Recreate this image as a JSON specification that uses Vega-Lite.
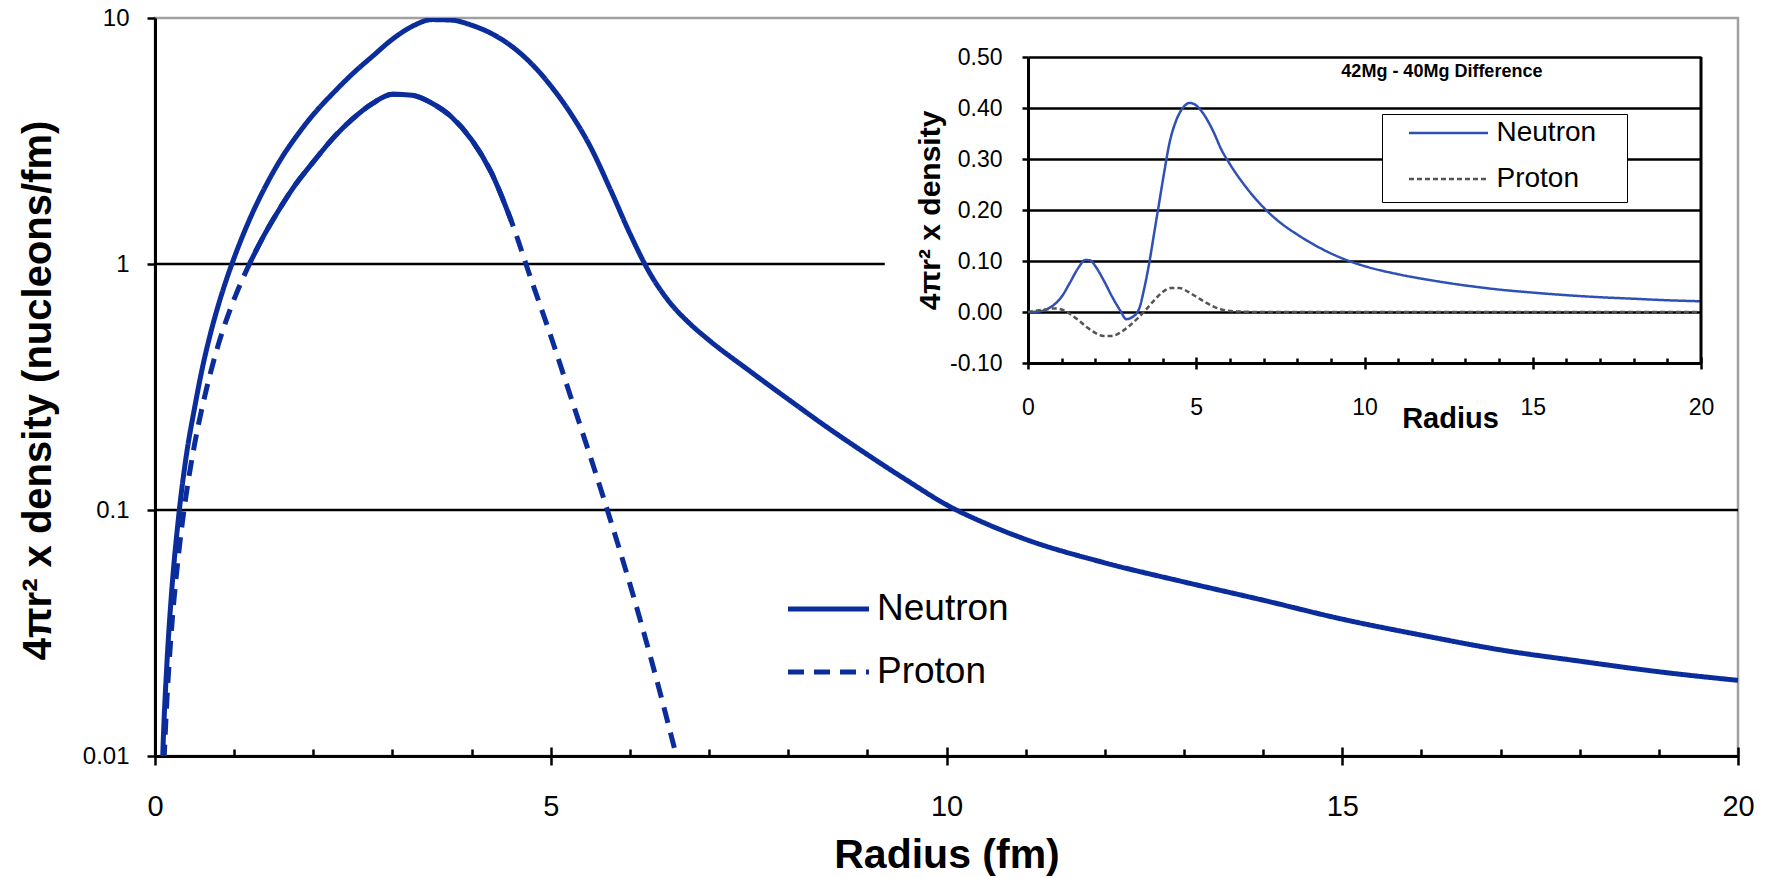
{
  "$schema": "https://vega.github.io/schema/vega-lite/v6.json",
  "width": 1583,
  "height": 738,
  "autosize": {"type": "none"},
  "padding": {"left": 155, "top": 18, "right": 31, "bottom": 122},
  "background": "white",
  "config": {
    "view": {"stroke": "#a0a0a0", "strokeWidth": 2.5},
    "font": "Liberation Sans",
    "axis": {"labelFont": "Liberation Sans", "titleFont": "Liberation Sans", "labelColor": "black", "titleColor": "black", "domainColor": "black", "tickColor": "black", "titleFontWeight": "bold", "labelFlush": false, "labelOverlap": false, "grid": false},
    "legend": {"labelFont": "Liberation Sans", "labelColor": "black"}
  },
  "datasets": {
    "main": [
      {"particle": "Neutron", "r": 0.05, "v": 0.0026},
      {"particle": "Neutron", "r": 0.1, "v": 0.0105},
      {"particle": "Neutron", "r": 0.15, "v": 0.0236},
      {"particle": "Neutron", "r": 0.2, "v": 0.042},
      {"particle": "Neutron", "r": 0.3, "v": 0.095},
      {"particle": "Neutron", "r": 0.4, "v": 0.17},
      {"particle": "Neutron", "r": 0.5, "v": 0.26},
      {"particle": "Neutron", "r": 0.6, "v": 0.38},
      {"particle": "Neutron", "r": 0.7, "v": 0.52},
      {"particle": "Neutron", "r": 0.8, "v": 0.68},
      {"particle": "Neutron", "r": 0.9, "v": 0.86},
      {"particle": "Neutron", "r": 1.0, "v": 1.06},
      {"particle": "Neutron", "r": 1.2, "v": 1.53},
      {"particle": "Neutron", "r": 1.4, "v": 2.08},
      {"particle": "Neutron", "r": 1.6, "v": 2.7},
      {"particle": "Neutron", "r": 1.8, "v": 3.35},
      {"particle": "Neutron", "r": 2.0, "v": 4.05},
      {"particle": "Neutron", "r": 2.25, "v": 4.95},
      {"particle": "Neutron", "r": 2.5, "v": 5.95},
      {"particle": "Neutron", "r": 2.75, "v": 7.0},
      {"particle": "Neutron", "r": 3.0, "v": 8.2},
      {"particle": "Neutron", "r": 3.25, "v": 9.25},
      {"particle": "Neutron", "r": 3.5, "v": 9.85},
      {"particle": "Neutron", "r": 3.75, "v": 9.8},
      {"particle": "Neutron", "r": 4.0, "v": 9.35},
      {"particle": "Neutron", "r": 4.25, "v": 8.65},
      {"particle": "Neutron", "r": 4.5, "v": 7.7},
      {"particle": "Neutron", "r": 4.75, "v": 6.55},
      {"particle": "Neutron", "r": 5.0, "v": 5.3},
      {"particle": "Neutron", "r": 5.25, "v": 4.1},
      {"particle": "Neutron", "r": 5.5, "v": 3.0},
      {"particle": "Neutron", "r": 5.75, "v": 2.02},
      {"particle": "Neutron", "r": 6.0, "v": 1.33},
      {"particle": "Neutron", "r": 6.25, "v": 0.92},
      {"particle": "Neutron", "r": 6.5, "v": 0.7},
      {"particle": "Neutron", "r": 6.75, "v": 0.575},
      {"particle": "Neutron", "r": 7.0, "v": 0.49},
      {"particle": "Neutron", "r": 7.5, "v": 0.37},
      {"particle": "Neutron", "r": 8.0, "v": 0.282},
      {"particle": "Neutron", "r": 8.5, "v": 0.216},
      {"particle": "Neutron", "r": 9.0, "v": 0.168},
      {"particle": "Neutron", "r": 9.5, "v": 0.132},
      {"particle": "Neutron", "r": 10.0, "v": 0.105},
      {"particle": "Neutron", "r": 10.5, "v": 0.088},
      {"particle": "Neutron", "r": 11, "v": 0.076},
      {"particle": "Neutron", "r": 12, "v": 0.061},
      {"particle": "Neutron", "r": 13, "v": 0.051},
      {"particle": "Neutron", "r": 14, "v": 0.043},
      {"particle": "Neutron", "r": 15, "v": 0.036},
      {"particle": "Neutron", "r": 16, "v": 0.031},
      {"particle": "Neutron", "r": 17, "v": 0.027},
      {"particle": "Neutron", "r": 18, "v": 0.0243},
      {"particle": "Neutron", "r": 19, "v": 0.022},
      {"particle": "Neutron", "r": 20, "v": 0.0203},
      {"particle": "Proton", "r": 0.1, "v": 0.0075},
      {"particle": "Proton", "r": 0.15, "v": 0.0168},
      {"particle": "Proton", "r": 0.2, "v": 0.03},
      {"particle": "Proton", "r": 0.3, "v": 0.067},
      {"particle": "Proton", "r": 0.4, "v": 0.119},
      {"particle": "Proton", "r": 0.5, "v": 0.185},
      {"particle": "Proton", "r": 0.6, "v": 0.265},
      {"particle": "Proton", "r": 0.7, "v": 0.36},
      {"particle": "Proton", "r": 0.8, "v": 0.47},
      {"particle": "Proton", "r": 0.9, "v": 0.59},
      {"particle": "Proton", "r": 1.0, "v": 0.72},
      {"particle": "Proton", "r": 1.1, "v": 0.86},
      {"particle": "Proton", "r": 1.2, "v": 1.01},
      {"particle": "Proton", "r": 1.35, "v": 1.26},
      {"particle": "Proton", "r": 1.5, "v": 1.53},
      {"particle": "Proton", "r": 1.75, "v": 2.05},
      {"particle": "Proton", "r": 2.0, "v": 2.6},
      {"particle": "Proton", "r": 2.25, "v": 3.25},
      {"particle": "Proton", "r": 2.5, "v": 3.9},
      {"particle": "Proton", "r": 2.75, "v": 4.5},
      {"particle": "Proton", "r": 3.0, "v": 4.9},
      {"particle": "Proton", "r": 3.25, "v": 4.85},
      {"particle": "Proton", "r": 3.5, "v": 4.5},
      {"particle": "Proton", "r": 3.75, "v": 3.95},
      {"particle": "Proton", "r": 4.0, "v": 3.2},
      {"particle": "Proton", "r": 4.25, "v": 2.35},
      {"particle": "Proton", "r": 4.5, "v": 1.5},
      {"particle": "Proton", "r": 4.75, "v": 0.87},
      {"particle": "Proton", "r": 5.0, "v": 0.51},
      {"particle": "Proton", "r": 5.25, "v": 0.29},
      {"particle": "Proton", "r": 5.5, "v": 0.165},
      {"particle": "Proton", "r": 5.75, "v": 0.092},
      {"particle": "Proton", "r": 6.0, "v": 0.05},
      {"particle": "Proton", "r": 6.25, "v": 0.026},
      {"particle": "Proton", "r": 6.5, "v": 0.0129},
      {"particle": "Proton", "r": 6.75, "v": 0.0061},
      {"particle": "Proton", "r": 7.0, "v": 0.0027}
    ],
    "diff": [
      {"particle": "Neutron", "r": 0, "v": 0},
      {"particle": "Neutron", "r": 0.25, "v": 0.0005},
      {"particle": "Neutron", "r": 0.5, "v": 0.004},
      {"particle": "Neutron", "r": 0.75, "v": 0.013},
      {"particle": "Neutron", "r": 1.0, "v": 0.03},
      {"particle": "Neutron", "r": 1.25, "v": 0.058},
      {"particle": "Neutron", "r": 1.5, "v": 0.087},
      {"particle": "Neutron", "r": 1.7, "v": 0.102},
      {"particle": "Neutron", "r": 1.85, "v": 0.101},
      {"particle": "Neutron", "r": 2.0, "v": 0.09},
      {"particle": "Neutron", "r": 2.25, "v": 0.062},
      {"particle": "Neutron", "r": 2.5, "v": 0.03},
      {"particle": "Neutron", "r": 2.75, "v": 0.002},
      {"particle": "Neutron", "r": 2.92, "v": -0.014},
      {"particle": "Neutron", "r": 3.1, "v": -0.01},
      {"particle": "Neutron", "r": 3.3, "v": 0.006},
      {"particle": "Neutron", "r": 3.45, "v": 0.045},
      {"particle": "Neutron", "r": 3.6, "v": 0.095},
      {"particle": "Neutron", "r": 3.75, "v": 0.155},
      {"particle": "Neutron", "r": 3.9, "v": 0.215},
      {"particle": "Neutron", "r": 4.05, "v": 0.275},
      {"particle": "Neutron", "r": 4.2, "v": 0.33},
      {"particle": "Neutron", "r": 4.4, "v": 0.375},
      {"particle": "Neutron", "r": 4.6, "v": 0.4},
      {"particle": "Neutron", "r": 4.8, "v": 0.41},
      {"particle": "Neutron", "r": 5.0, "v": 0.405},
      {"particle": "Neutron", "r": 5.25, "v": 0.385},
      {"particle": "Neutron", "r": 5.5, "v": 0.355},
      {"particle": "Neutron", "r": 5.75, "v": 0.318},
      {"particle": "Neutron", "r": 6.0, "v": 0.29},
      {"particle": "Neutron", "r": 6.5, "v": 0.243},
      {"particle": "Neutron", "r": 7.0, "v": 0.205},
      {"particle": "Neutron", "r": 7.5, "v": 0.175},
      {"particle": "Neutron", "r": 8.0, "v": 0.152},
      {"particle": "Neutron", "r": 8.5, "v": 0.132},
      {"particle": "Neutron", "r": 9.0, "v": 0.115},
      {"particle": "Neutron", "r": 9.5, "v": 0.101},
      {"particle": "Neutron", "r": 10, "v": 0.09},
      {"particle": "Neutron", "r": 11, "v": 0.074},
      {"particle": "Neutron", "r": 12, "v": 0.062},
      {"particle": "Neutron", "r": 13, "v": 0.052},
      {"particle": "Neutron", "r": 14, "v": 0.044},
      {"particle": "Neutron", "r": 15, "v": 0.038},
      {"particle": "Neutron", "r": 16, "v": 0.033},
      {"particle": "Neutron", "r": 17, "v": 0.029},
      {"particle": "Neutron", "r": 18, "v": 0.026},
      {"particle": "Neutron", "r": 19, "v": 0.023},
      {"particle": "Neutron", "r": 20, "v": 0.021},
      {"particle": "Proton", "r": 0, "v": 0},
      {"particle": "Proton", "r": 0.4, "v": 0.004},
      {"particle": "Proton", "r": 0.8, "v": 0.007},
      {"particle": "Proton", "r": 1.0, "v": 0.005},
      {"particle": "Proton", "r": 1.25, "v": -0.004},
      {"particle": "Proton", "r": 1.5, "v": -0.016},
      {"particle": "Proton", "r": 1.75, "v": -0.03},
      {"particle": "Proton", "r": 2.0, "v": -0.041},
      {"particle": "Proton", "r": 2.25, "v": -0.047},
      {"particle": "Proton", "r": 2.5, "v": -0.047},
      {"particle": "Proton", "r": 2.75, "v": -0.04},
      {"particle": "Proton", "r": 3.0, "v": -0.028},
      {"particle": "Proton", "r": 3.25, "v": -0.013},
      {"particle": "Proton", "r": 3.5, "v": 0.004},
      {"particle": "Proton", "r": 3.75, "v": 0.023},
      {"particle": "Proton", "r": 4.0, "v": 0.039},
      {"particle": "Proton", "r": 4.25, "v": 0.047},
      {"particle": "Proton", "r": 4.5, "v": 0.047},
      {"particle": "Proton", "r": 4.75, "v": 0.04},
      {"particle": "Proton", "r": 5.0, "v": 0.03},
      {"particle": "Proton", "r": 5.25, "v": 0.02},
      {"particle": "Proton", "r": 5.5, "v": 0.011},
      {"particle": "Proton", "r": 5.75, "v": 0.005},
      {"particle": "Proton", "r": 6.0, "v": 0.002},
      {"particle": "Proton", "r": 6.5, "v": 0.0005},
      {"particle": "Proton", "r": 7, "v": 0},
      {"particle": "Proton", "r": 8, "v": 0},
      {"particle": "Proton", "r": 10, "v": 0},
      {"particle": "Proton", "r": 12, "v": 0},
      {"particle": "Proton", "r": 14, "v": 0},
      {"particle": "Proton", "r": 16, "v": 0},
      {"particle": "Proton", "r": 18, "v": 0},
      {"particle": "Proton", "r": 20, "v": 0}
    ]
  },
  "layer": [
    {
      "layer": [
        {
          "data": {"values": [{}]},
          "mark": {"type": "rule", "color": "black", "strokeWidth": 2.5},
          "encoding": {
            "x": {"datum": 0, "type": "quantitative", "scale": {"domain": [0, 20], "nice": false, "zero": false}},
            "x2": {"datum": 9.22},
            "y": {"datum": 1, "type": "quantitative", "scale": {"type": "log", "domain": [0.01, 10], "nice": false}}
          }
        },
        {
          "data": {"values": [{}]},
          "mark": {"type": "rule", "color": "black", "strokeWidth": 2.5},
          "encoding": {
            "x": {"datum": 0, "type": "quantitative", "scale": {"domain": [0, 20], "nice": false, "zero": false}},
            "x2": {"datum": 20},
            "y": {"datum": 0.1, "type": "quantitative", "scale": {"type": "log", "domain": [0.01, 10], "nice": false}}
          }
        },
        {
          "data": {"name": "main"},
          "mark": {"type": "line", "color": "#0b2d9c", "strokeWidth": 5, "clip": true, "interpolate": "monotone"},
          "encoding": {
            "x": {
              "field": "r", "type": "quantitative",
              "scale": {"domain": [0, 20], "nice": false, "zero": false},
              "axis": {
                "title": "Radius (fm)", "orient": "bottom", "grid": false,
                "values": [0,1,2,3,4,5,6,7,8,9,10,11,12,13,14,15,16,17,18,19,20],
                "labelExpr": "datum.value % 5 === 0 ? format(datum.value, 'd') : ''",
                "labelFontSize": 29, "labelPadding": 27, "tickSize": 9, "tickWidth": 2.5, "domainWidth": 3,
                "titleFontSize": 41, "titleY": 111, "titleBaseline": "alphabetic",
                "encoding": {"ticks": {
                  "y": {"condition": {"test": "datum.value % 5 === 0", "value": -9}, "value": -7},
                  "y2": {"condition": {"test": "datum.value % 5 === 0", "value": 9}, "value": 0}
                }}
              }
            },
            "y": {
              "field": "v", "type": "quantitative",
              "scale": {"type": "log", "domain": [0.01, 10], "nice": false},
              "axis": {
                "title": "4πr² x density (nucleons/fm)", "orient": "left", "grid": false,
                "values": [0.01, 0.1, 1, 10], "format": "~g",
                "labelFontSize": 24, "labelPadding": 18, "tickSize": 8, "tickWidth": 2.5, "domainWidth": 3,
                "titleFontSize": 40, "titleX": -105, "titleY": 372, "titleBaseline": "alphabetic", "titleAngle": -90, "titleAlign": "center"
              }
            },
            "strokeDash": {
              "field": "particle", "type": "nominal",
              "scale": {"domain": ["Neutron", "Proton"], "range": [[1, 0], [16, 10]]},
              "legend": {
                "title": null, "orient": "none", "legendX": 630.5, "legendY": 571, "padding": 0,
                "symbolType": "stroke", "symbolSize": 6561, "symbolStrokeWidth": 5, "symbolStrokeColor": "#0b2d9c",
                "labelFontSize": 37, "labelOffset": 5.5, "clipHeight": 40, "rowPadding": 23, "zindex": 1
              }
            }
          }
        },
        {
          "data": {"name": "main"},
          "transform": [{"filter": "datum.particle === 'Proton' && datum.v >= 1"}],
          "mark": {"type": "line", "color": "#0b2d9c", "strokeWidth": 5, "clip": true, "interpolate": "monotone"},
          "encoding": {
            "x": {"field": "r", "type": "quantitative"},
            "y": {"field": "v", "type": "quantitative"}
          }
        }
      ]
    },
    {
      "layer": [
        {
          "data": {"name": "diff"},
          "mark": {"type": "line", "strokeWidth": 2.5, "interpolate": "monotone"},
          "encoding": {
            "x": {
              "field": "r", "type": "quantitative",
              "scale": {"domain": [0, 20], "range": [873, 1546], "nice": false, "zero": false},
              "axis": {
                "title": "Radius", "orient": "bottom", "offset": -393, "grid": false,
                "values": [0,1,2,3,4,5,6,7,8,9,10,11,12,13,14,15,16,17,18,19,20],
                "labelExpr": "datum.value % 5 === 0 ? format(datum.value, 'd') : ''",
                "labelFontSize": 23, "labelPadding": 27, "tickSize": 6, "tickWidth": 2.5, "domainWidth": 3,
                "titleFontSize": 29, "titleX": 1295, "titleY": 64, "titleBaseline": "alphabetic",
                "encoding": {"ticks": {
                  "y": {"condition": {"test": "datum.value % 5 === 0", "value": -6}, "value": -5},
                  "y2": {"condition": {"test": "datum.value % 5 === 0", "value": 6}, "value": 0}
                }}
              }
            },
            "y": {
              "field": "v", "type": "quantitative",
              "scale": {"domain": [-0.1, 0.5], "range": [345, 39], "nice": false, "zero": false},
              "axis": {
                "title": "4πr² x density", "orient": "left", "offset": -873,
                "values": [-0.1, 0, 0.1, 0.2, 0.3, 0.4, 0.5],
                "labelExpr": "datum.value < -0.05 ? '-0.10' : format(datum.value, '.2f')",
                "grid": true, "gridColor": "black", "gridWidth": 2.5,
                "labelFontSize": 23, "labelPadding": 20, "tickSize": 6, "tickWidth": 2.5, "domainWidth": 3,
                "titleFontSize": 30, "titleX": -89, "titleY": 192, "titleBaseline": "alphabetic", "titleAngle": -90, "titleAlign": "center"
              }
            },
            "color": {
              "field": "particle", "type": "nominal",
              "scale": {"domain": ["Neutron", "Proton"], "range": ["#2f50b4", "#555555"]},
              "legend": {
                "title": null, "orient": "none", "legendX": 1227, "legendY": 96, "padding": 9,
                "fillColor": "white", "strokeColor": "black",
                "symbolType": "stroke", "symbolSize": 6241, "symbolStrokeWidth": 2.5,
                "labelFontSize": 28, "symbolOffset": 16.5, "labelOffset": 7, "clipHeight": 20, "rowPadding": 18,
                "labelExpr": "datum.label + '\u2800'", "zindex": 1
              }
            },
            "strokeDash": {
              "field": "particle", "type": "nominal",
              "scale": {"domain": ["Neutron", "Proton"], "range": [[1, 0], [5, 3]]},
              "legend": {
                "title": null, "orient": "none", "legendX": 1227, "legendY": 96, "padding": 9,
                "fillColor": "white", "strokeColor": "black",
                "symbolType": "stroke", "symbolSize": 6241, "symbolStrokeWidth": 2.5,
                "labelFontSize": 28, "symbolOffset": 16.5, "labelOffset": 7, "clipHeight": 20, "rowPadding": 18,
                "labelExpr": "datum.label + '\u2800'", "zindex": 1
              }
            }
          }
        },
        {
          "data": {"values": [{}]},
          "mark": {"type": "rule", "color": "black", "strokeWidth": 3},
          "encoding": {
            "x": {"datum": 20, "type": "quantitative"},
            "y": {"datum": -0.1, "type": "quantitative"},
            "y2": {"datum": 0.5}
          }
        },
        {
          "data": {"values": [{}]},
          "mark": {"type": "text", "fontSize": 18, "fontWeight": "bold", "font": "Liberation Sans", "color": "black", "align": "center", "baseline": "middle"},
          "encoding": {
            "x": {"datum": 12.3, "type": "quantitative"},
            "y": {"datum": 0.47, "type": "quantitative"},
            "text": {"value": "42Mg - 40Mg Difference"}
          }
        }
      ]
    }
  ],
  "resolve": {
    "scale": {"x": "independent", "y": "independent", "color": "independent", "strokeDash": "independent"},
    "axis": {"x": "independent", "y": "independent"},
    "legend": {"color": "independent", "strokeDash": "independent"}
  }
}
